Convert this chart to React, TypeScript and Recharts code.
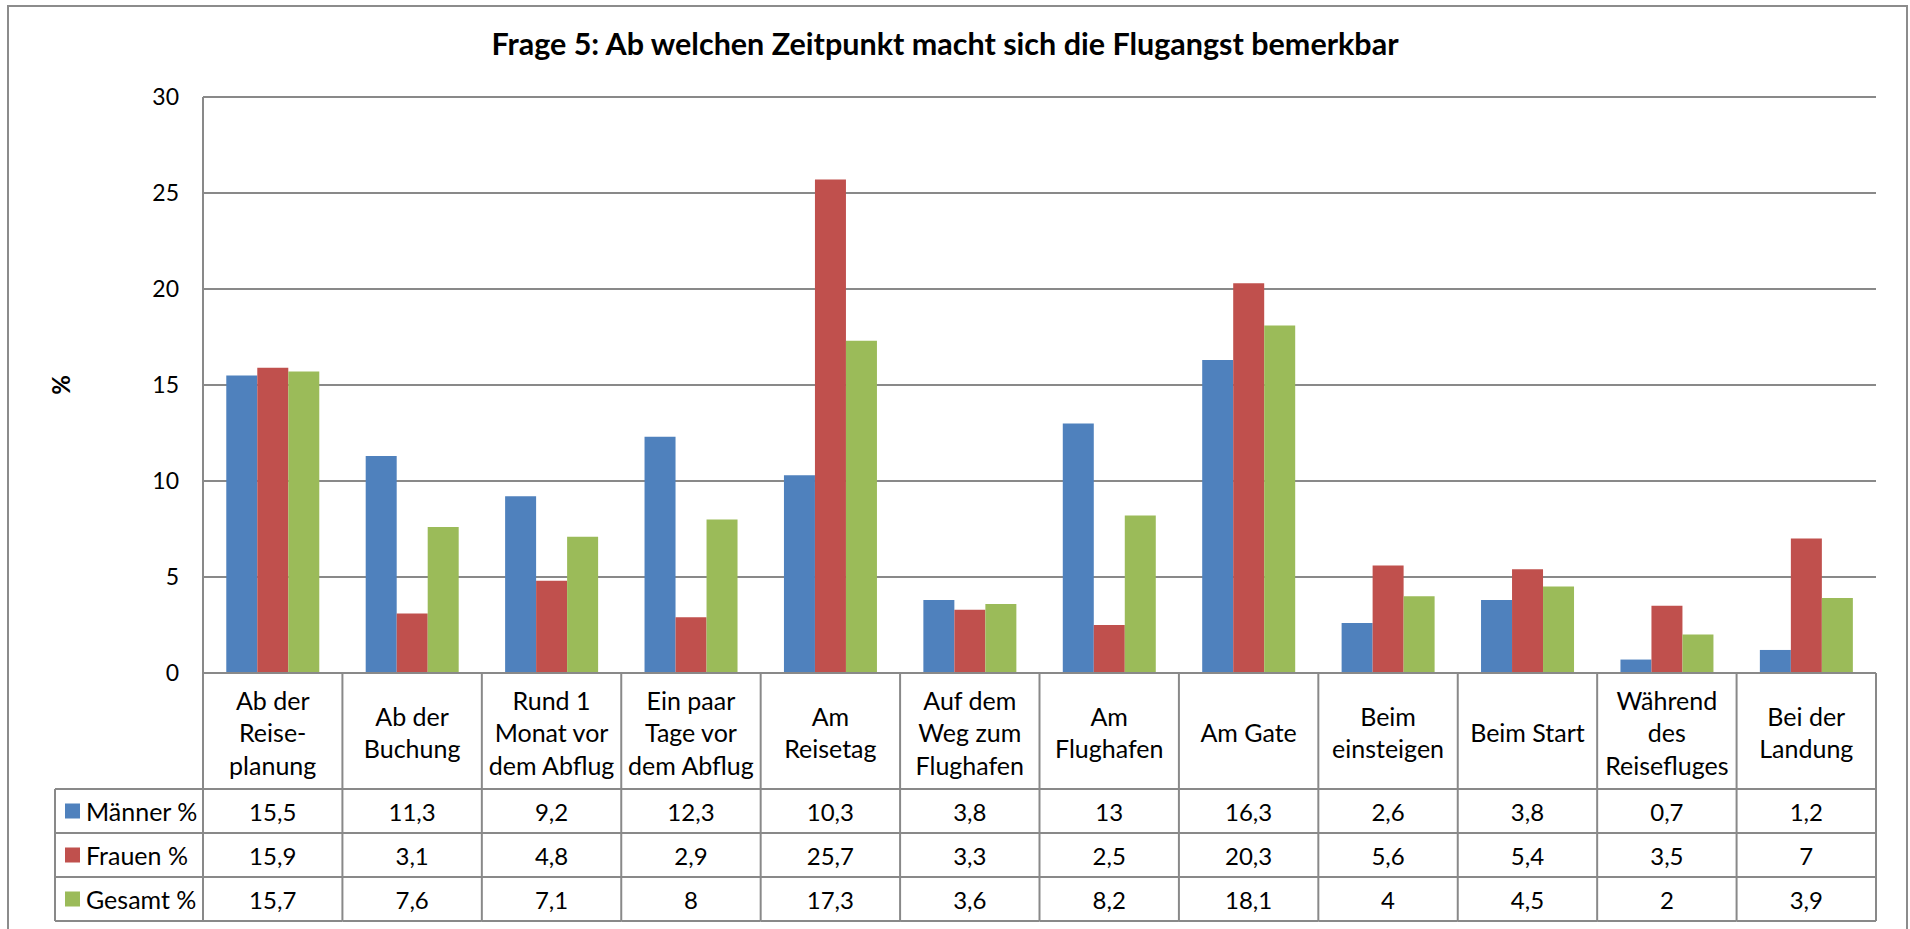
import React from 'react';
import { BarChart, Bar, XAxis, YAxis, CartesianGrid } from 'recharts';

const categories = [
  'Ab der\nReise-\nplanung',
  'Ab der\nBuchung',
  'Rund 1\nMonat vor\ndem Abflug',
  'Ein paar\nTage vor\ndem Abflug',
  'Am\nReisetag',
  'Auf dem\nWeg zum\nFlughafen',
  'Am\nFlughafen',
  'Am Gate',
  'Beim\neinsteigen',
  'Beim Start',
  'Während\ndes\nReisefluges',
  'Bei der\nLandung',
];
const maenner = [15.5, 11.3, 9.2, 12.3, 10.3, 3.8, 13, 16.3, 2.6, 3.8, 0.7, 1.2];
const frauen = [15.9, 3.1, 4.8, 2.9, 25.7, 3.3, 2.5, 20.3, 5.6, 5.4, 3.5, 7];
const gesamt = [15.7, 7.6, 7.1, 8, 17.3, 3.6, 8.2, 18.1, 4, 4.5, 2, 3.9];
const yTicks = [0, 5, 10, 15, 20, 25, 30];

const series = [
  { key: 'maenner', name: 'Männer %', color: '#4F81BD', values: maenner },
  { key: 'frauen', name: 'Frauen %', color: '#C0504D', values: frauen },
  { key: 'gesamt', name: 'Gesamt %', color: '#9BBB59', values: gesamt },
];

const data = categories.map((c, i) => ({
  cat: c,
  maenner: maenner[i],
  frauen: frauen[i],
  gesamt: gesamt[i],
}));

const FONT = 'Lato, Carlito, Calibri, sans-serif';
const LINE = '#898989';
const CAT_ROW = 116; // height of the category label row
const ROW = 44; // height of each data row
const LEGEND_COL = 148; // width of the legend column left of the plot
const FS_LABEL = 25;
const FS_VALUE = 24;

const fmt = (v: number) => String(v).replace('.', ',');

// draws one column of the data table under each category
const TableTick = (props: any) => {
  const { x, y, payload } = props;
  const idx = payload.index ?? props.index;
  const half = payload.offset || 69.7;
  const left = x - half;
  const right = x + half;
  const bottom = y + CAT_ROW + ROW * 3;
  const lines = String(payload.value).split('\n');
  const lh = 32.5;
  const cy = y + 59;
  const startY = cy - ((lines.length - 1) * lh) / 2;

  return (
    <g>
      <line x1={left} y1={y} x2={left} y2={bottom} stroke={LINE} strokeWidth={2} />
      {idx === categories.length - 1 && (
        <line x1={right} y1={y} x2={right} y2={bottom} stroke={LINE} strokeWidth={2} />
      )}
      {[0, 1, 2, 3].map((r) => (
        <line
          key={r}
          x1={left}
          x2={right}
          y1={y + CAT_ROW + r * ROW}
          y2={y + CAT_ROW + r * ROW}
          stroke={LINE}
          strokeWidth={2}
        />
      ))}
      {lines.map((l, i) => (
        <text
          key={i}
          x={x}
          y={startY + i * lh}
          textAnchor="middle"
          dominantBaseline="central"
          fontSize={FS_LABEL}
          fontFamily={FONT}
          fill="#000"
        >
          {l}
        </text>
      ))}
      {series.map((s, r) => (
        <text
          key={s.key}
          x={x}
          y={y + CAT_ROW + r * ROW + ROW / 2}
          textAnchor="middle"
          dominantBaseline="central"
          fontSize={FS_VALUE}
          fontFamily={FONT}
          fill="#000"
        >
          {fmt(s.values[idx])}
        </text>
      ))}
      {idx === 0 && (
        <g>
          <line
            x1={left - LEGEND_COL}
            y1={y + CAT_ROW}
            x2={left - LEGEND_COL}
            y2={bottom}
            stroke={LINE}
            strokeWidth={2}
          />
          {[0, 1, 2, 3].map((r) => (
            <line
              key={r}
              x1={left - LEGEND_COL}
              x2={left}
              y1={y + CAT_ROW + r * ROW}
              y2={y + CAT_ROW + r * ROW}
              stroke={LINE}
              strokeWidth={2}
            />
          ))}
          {series.map((s, r) => (
            <g key={s.key}>
              <rect
                x={left - LEGEND_COL + 10}
                y={y + CAT_ROW + r * ROW + ROW / 2 - 7.5}
                width={15}
                height={15}
                fill={s.color}
              />
              <text
                x={left - LEGEND_COL + 31}
                y={y + CAT_ROW + r * ROW + ROW / 2}
                dominantBaseline="central"
                fontSize={FS_LABEL}
                fontFamily={FONT}
                fill="#000"
              >
                {s.name}
              </text>
            </g>
          ))}
        </g>
      )}
    </g>
  );
};

const YLabel = (props: any) => {
  const vb = props.viewBox || { x: 0, y: 97, width: 203, height: 576 };
  const cx = vb.x + 60;
  const cy = vb.y + vb.height / 2;
  return (
    <text
      x={cx}
      y={cy}
      transform={`rotate(-90, ${cx}, ${cy})`}
      textAnchor="middle"
      dominantBaseline="central"
      fontSize={24}
      fontWeight="bold"
      fontFamily={FONT}
      fill="#000"
    >
      %
    </text>
  );
};

export default function App() {
  return (
    <div style={{ position: 'absolute', left: 0, top: 0, width: 1910, height: 929, overflow: 'hidden', background: '#fff' }}>
      <div
        style={{
          position: 'absolute',
          left: 7,
          top: 5,
          width: 1901,
          height: 960,
          border: '2px solid #8c8c8c',
          boxSizing: 'border-box',
        }}
      />
      <div
        style={{
          position: 'absolute',
          left: 0,
          width: 1890,
          top: 23,
          textAlign: 'center',
          fontFamily: FONT,
          fontWeight: 'bold',
          fontSize: 30.5,
          lineHeight: '40px',
          color: '#000',
        }}
      >
        Frage 5: Ab welchen Zeitpunkt macht sich die Flugangst bemerkbar
      </div>
      <div style={{ position: 'absolute', left: 0, top: 0 }}>
        <BarChart
          width={1910}
          height={929}
          data={data}
          margin={{ top: 97, right: 34, bottom: 0, left: 0 }}
          barCategoryGap="16.7%"
          barGap={0}
        >
          <CartesianGrid horizontal vertical={false} stroke={LINE} strokeWidth={2} />
          <XAxis
            dataKey="cat"
            height={256}
            interval={0}
            tickSize={0}
            tickMargin={0}
            tickLine={false}
            axisLine={{ stroke: LINE, strokeWidth: 2 }}
            tick={<TableTick />}
          />
          <YAxis
            width={203}
            domain={[0, 30]}
            ticks={yTicks}
            interval={0}
            tickSize={0}
            tickMargin={24}
            tickLine={false}
            axisLine={{ stroke: LINE, strokeWidth: 2 }}
            tick={{ fontSize: 23, fontFamily: FONT, fill: '#000' }}
            label={<YLabel />}
          />
          {series.map((s) => (
            <Bar key={s.key} dataKey={s.key} name={s.name} fill={s.color} isAnimationActive={false} />
          ))}
        </BarChart>
      </div>
    </div>
  );
}
